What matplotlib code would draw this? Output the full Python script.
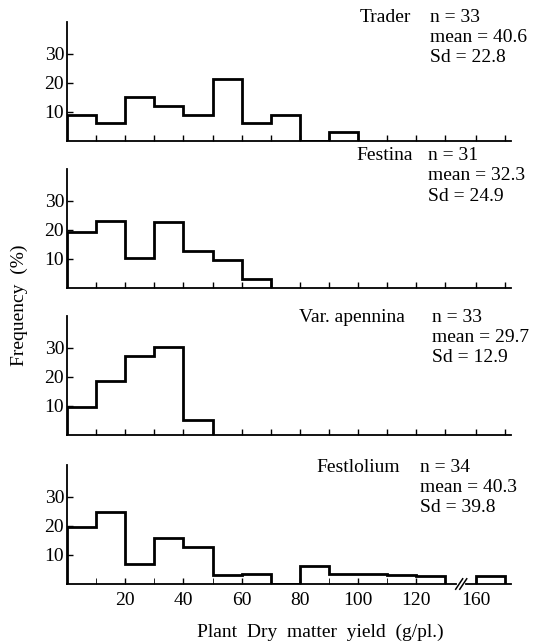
import numpy as np
import matplotlib.pyplot as plt

plt.rcParams['font.family'] = ['Liberation Serif', 'DejaVu Serif']
plt.rcParams['font.size'] = 14

# histogram values (%), bins of 10 g starting at 0
names = ['Trader', 'Festina', 'Var. apennina', 'Festlolium']
n_vals = [33, 31, 33, 34]
means = [40.6, 32.3, 29.7, 40.3]
sds = [22.8, 24.9, 12.9, 39.8]

trader = [9.1, 6.1, 15.2, 12.1, 9.1, 21.2, 6.1, 9.1, 0, 3.0]
festina = [19.4, 23.2, 10.3, 22.9, 12.9, 9.7, 3.2]
apennina = [9.6, 18.5, 27.3, 30.3, 5.2]
festlolium = [19.8, 24.9, 6.8, 16.0, 12.6, 3.2, 3.4, 0, 6.3, 3.6, 3.3, 3.1, 2.9]
festlolium_160 = [2.8]          # the 160-170 bin, after the axis break

series = [trader, festina, apennina, festlolium]

xlabels = [20, 40, 60, 80, 100, 120, 160]
SHIFT = 19.5   # 160 sits at 140.5 on the broken axis

W, H = 546, 643
fig = plt.figure(figsize=(W / 100, H / 100), dpi=100)

baselines = [141, 288, 435, 584]
text_rows = [18, 156, 318, 467]
stat_x = [430, 428, 432, 420]
name_x = [411, 413, 405, 400]

for i, vals in enumerate(series):
    ax = fig.add_axes([67 / W, 1 - baselines[i] / H, 444 / W, 119 / H])
    edges = np.arange(len(vals) + 1) * 10
    ax.stairs(vals, edges, baseline=0, color='black', lw=2.0)
    if i == 3:
        e160 = np.array([160, 170]) - SHIFT
        ax.stairs(festlolium_160, e160, baseline=0, color='black', lw=2.0)

    ax.set_xlim(0, 152.5)
    ax.set_ylim(0, 41)
    for s in ['top', 'right']:
        ax.spines[s].set_visible(False)
    ax.spines['left'].set_linewidth(1.3)
    ax.spines['bottom'].set_linewidth(1.3)

    xt = list(range(10, 140, 10)) + [160 - SHIFT, 170 - SHIFT]
    ax.set_xticks(xt)
    ax.set_yticks([10, 20, 30])
    ax.tick_params(direction='in', length=4, width=1.0)
    ax.tick_params(axis='y', pad=2)

    if i == 3:
        # broken baseline with // mark
        ax.spines['bottom'].set_visible(False)
        ax.plot([0, 133.5], [0, 0], color='black', lw=1.3, clip_on=False)
        ax.plot([137.2, 152.5], [0, 0], color='black', lw=1.3, clip_on=False)
        for dx in (-0.7, 0.7):
            ax.plot([134.2 + dx, 136.6 + dx], [-1.8, 1.8], color='black',
                    lw=1.1, clip_on=False)
        ax.set_xticks([v if v < 150 else v - SHIFT for v in xlabels])
        ax.set_xticklabels([str(v) for v in xlabels])
        ax.set_xticks([10, 30, 50, 70, 90, 110, 130], minor=True)
        ax.tick_params(axis='x', which='both', direction='in', length=4, pad=6)
    else:
        ax.set_xticklabels([])

    y0 = text_rows[i]
    fig.text(name_x[i] / W, 1 - y0 / H, names[i], ha='right', va='center')
    fig.text(stat_x[i] / W, 1 - y0 / H, 'n = %d' % n_vals[i], ha='left', va='center')
    fig.text(stat_x[i] / W, 1 - (y0 + 20) / H, 'mean = %.1f' % means[i], ha='left', va='center')
    fig.text(stat_x[i] / W, 1 - (y0 + 40) / H, 'Sd = %.1f' % sds[i], ha='left', va='center')

fig.text(19 / W, 1 - 305 / H, 'Frequency  (%)', rotation=90, ha='center', va='center')
fig.text(320 / W, 1 - 632 / H, 'Plant  Dry  matter  yield  (g/pl.)', ha='center', va='center')

fig.savefig('out.png', dpi=100)
